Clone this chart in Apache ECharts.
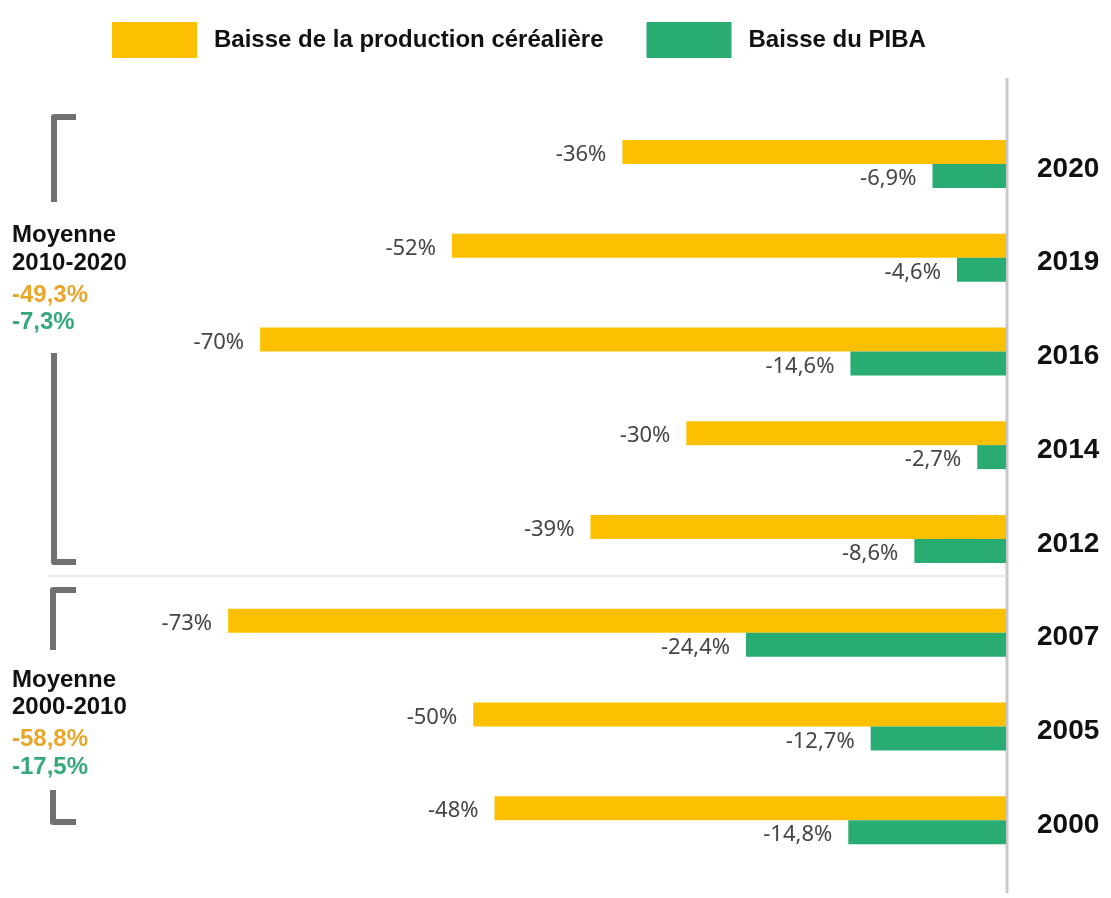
<!DOCTYPE html>
<html>
<head>
<meta charset="utf-8">
<script src="https://cdn.jsdelivr.net/npm/echarts@6/dist/echarts.min.js"></script>
<style>
  html, body { margin: 0; padding: 0; background: #fff; }
  #chart { width: 1111px; height: 898px; }
</style>
</head>
<body>
<div id="chart"></div>
<script>
// data
var years = ['2020', '2019', '2016', '2014', '2012', '2007', '2005', '2000'];
var cerealDrop = [-36, -52, -70, -30, -39, -73, -50, -48];
var pibaDrop = [-6.9, -4.6, -14.6, -2.7, -8.6, -24.4, -12.7, -14.8];
var seriesNames = ['Baisse de la production céréalière', 'Baisse du PIBA'];
var avgBlocks = [
    {title: 'Moyenne', period: '2010-2020', cereal: '-49,3%', piba: '-7,3%'},
    {title: 'Moyenne', period: '2000-2010', cereal: '-58,8%', piba: '-17,5%'}
];

var yellow = '#FDC000';
var green = '#29AC72';
var yellowText = '#E9A62A';
var greenText = '#35A979';

var chart = echarts.init(document.getElementById('chart'));

function pct(v) {
    return String(v).replace('.', ',') + '%';
}

var valueLabel = {
    show: true,
    position: 'left',
    distance: 16,
    offset: [0, 3],
    fontFamily: 'Noto Sans',
    fontSize: 22,
    color: '#454545',
    formatter: function (p) { return pct(p.value); }
};

var option = {
    animation: false,
    backgroundColor: '#fff',
    legend: {
        left: 107,
        top: 17,
        icon: 'rect',
        itemWidth: 85,
        itemHeight: 36,
        itemGap: 43,
        textStyle: {
            fontFamily: 'Liberation Sans',
            fontWeight: 'bold',
            fontSize: 24,
            color: '#111',
            padding: [0, 0, 0, 12]
        },
        data: seriesNames
    },
    grid: {left: 47, right: 105, top: 117, bottom: 31},
    xAxis: {
        type: 'value',
        min: -90,
        max: 0,
        show: false
    },
    yAxis: {
        type: 'category',
        data: years,
        inverse: true,
        position: 'right',
        axisLine: {show: false},
        axisTick: {show: false},
        splitLine: {show: false},
        axisLabel: {
            margin: 31,
            formatter: function (v) { return '{y|' + v + '}'; },
            rich: {
                y: {
                    fontFamily: 'Liberation Sans',
                    fontWeight: 'bold',
                    fontSize: 28,
                    color: '#111',
                    padding: [10, 0, 0, 0]
                }
            }
        }
    },
    series: [
        {
            name: seriesNames[0],
            type: 'bar',
            data: cerealDrop,
            barWidth: 24,
            barGap: '0%',
            itemStyle: {color: yellow},
            label: valueLabel
        },
        {
            name: seriesNames[1],
            type: 'bar',
            data: pibaDrop,
            barWidth: 24,
            itemStyle: {color: green},
            label: valueLabel
        }
    ]
};

chart.setOption(option);

// zero line and decorations
var x0 = Math.round(chart.convertToPixel({xAxisIndex: 0}, 0)) + 1;
var bracketStyle = {stroke: '#707070', lineWidth: 6, fill: null, lineJoin: 'round'};

function txt(x, y, s, color) {
    return {
        type: 'text', x: x, y: y,
        style: {
            text: s, fill: color,
            font: 'bold 24px "Liberation Sans"',
            verticalAlign: 'middle'
        }
    };
}

var blockY = [[235, 263, 295, 322], [680, 707, 739, 767]];
var graphics = [
    {type: 'line', shape: {x1: x0, y1: 78, x2: x0, y2: 893}, style: {stroke: '#c8c8c8', lineWidth: 3}},
    {type: 'line', shape: {x1: 48, y1: 576, x2: x0, y2: 576}, style: {stroke: '#e2e2e2', lineWidth: 1.5}},
    {type: 'polyline', shape: {points: [[76, 117], [54, 117], [54, 202]]}, style: bracketStyle},
    {type: 'polyline', shape: {points: [[54, 353], [54, 562], [76, 562]]}, style: bracketStyle},
    {type: 'polyline', shape: {points: [[76, 590], [53, 590], [53, 650]]}, style: bracketStyle},
    {type: 'polyline', shape: {points: [[53, 790], [53, 822], [76, 822]]}, style: bracketStyle}
];
avgBlocks.forEach(function (b, i) {
    var ys = blockY[i];
    graphics.push(txt(12, ys[0], b.title, '#111'));
    graphics.push(txt(12, ys[1], b.period, '#111'));
    graphics.push(txt(12, ys[2], b.cereal, yellowText));
    graphics.push(txt(12, ys[3], b.piba, greenText));
});

chart.setOption({graphic: graphics});
</script>
</body>
</html>
